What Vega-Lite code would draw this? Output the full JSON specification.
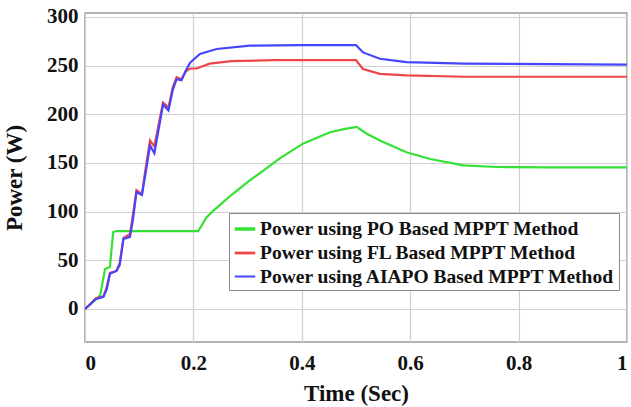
{
  "$schema": "https://vega.github.io/schema/vega-lite/v6.json",
  "width": 542,
  "height": 329,
  "autosize": {"type": "none"},
  "padding": {"left": 85, "top": 13, "right": 4, "bottom": 65},
  "background": "white",
  "config": {
    "view": {"stroke": "#9a9a9a", "strokeWidth": 1.5},
    "font": "Liberation Serif"
  },
  "datasets": {
    "pw": [
      {"s": "Power using PO Based MPPT Method", "t": 0, "P": 0},
      {"s": "Power using PO Based MPPT Method", "t": 0.015, "P": 7.5},
      {"s": "Power using PO Based MPPT Method", "t": 0.028, "P": 14},
      {"s": "Power using PO Based MPPT Method", "t": 0.037, "P": 41},
      {"s": "Power using PO Based MPPT Method", "t": 0.046, "P": 43},
      {"s": "Power using PO Based MPPT Method", "t": 0.052, "P": 79},
      {"s": "Power using PO Based MPPT Method", "t": 0.058, "P": 80},
      {"s": "Power using PO Based MPPT Method", "t": 0.1, "P": 80},
      {"s": "Power using PO Based MPPT Method", "t": 0.209, "P": 80},
      {"s": "Power using PO Based MPPT Method", "t": 0.224, "P": 94},
      {"s": "Power using PO Based MPPT Method", "t": 0.237, "P": 101},
      {"s": "Power using PO Based MPPT Method", "t": 0.27, "P": 117},
      {"s": "Power using PO Based MPPT Method", "t": 0.304, "P": 132},
      {"s": "Power using PO Based MPPT Method", "t": 0.329, "P": 142},
      {"s": "Power using PO Based MPPT Method", "t": 0.36, "P": 155},
      {"s": "Power using PO Based MPPT Method", "t": 0.403, "P": 170},
      {"s": "Power using PO Based MPPT Method", "t": 0.452, "P": 181.5},
      {"s": "Power using PO Based MPPT Method", "t": 0.48, "P": 185},
      {"s": "Power using PO Based MPPT Method", "t": 0.501, "P": 187},
      {"s": "Power using PO Based MPPT Method", "t": 0.52, "P": 180},
      {"s": "Power using PO Based MPPT Method", "t": 0.544, "P": 173},
      {"s": "Power using PO Based MPPT Method", "t": 0.593, "P": 161},
      {"s": "Power using PO Based MPPT Method", "t": 0.637, "P": 154},
      {"s": "Power using PO Based MPPT Method", "t": 0.698, "P": 147.5},
      {"s": "Power using PO Based MPPT Method", "t": 0.76, "P": 145.8},
      {"s": "Power using PO Based MPPT Method", "t": 0.85, "P": 145.5},
      {"s": "Power using PO Based MPPT Method", "t": 1, "P": 145.5},

      {"s": "Power using FL Based MPPT Method", "t": 0, "P": 0},
      {"s": "Power using FL Based MPPT Method", "t": 0.01, "P": 5},
      {"s": "Power using FL Based MPPT Method", "t": 0.02, "P": 11},
      {"s": "Power using FL Based MPPT Method", "t": 0.034, "P": 13},
      {"s": "Power using FL Based MPPT Method", "t": 0.04, "P": 22},
      {"s": "Power using FL Based MPPT Method", "t": 0.046, "P": 37},
      {"s": "Power using FL Based MPPT Method", "t": 0.058, "P": 39},
      {"s": "Power using FL Based MPPT Method", "t": 0.064, "P": 47},
      {"s": "Power using FL Based MPPT Method", "t": 0.071, "P": 73},
      {"s": "Power using FL Based MPPT Method", "t": 0.083, "P": 77},
      {"s": "Power using FL Based MPPT Method", "t": 0.088, "P": 95},
      {"s": "Power using FL Based MPPT Method", "t": 0.095, "P": 122},
      {"s": "Power using FL Based MPPT Method", "t": 0.105, "P": 118},
      {"s": "Power using FL Based MPPT Method", "t": 0.112, "P": 145},
      {"s": "Power using FL Based MPPT Method", "t": 0.12, "P": 173},
      {"s": "Power using FL Based MPPT Method", "t": 0.128, "P": 167},
      {"s": "Power using FL Based MPPT Method", "t": 0.136, "P": 190},
      {"s": "Power using FL Based MPPT Method", "t": 0.144, "P": 212},
      {"s": "Power using FL Based MPPT Method", "t": 0.154, "P": 207},
      {"s": "Power using FL Based MPPT Method", "t": 0.162, "P": 228},
      {"s": "Power using FL Based MPPT Method", "t": 0.169, "P": 238},
      {"s": "Power using FL Based MPPT Method", "t": 0.178, "P": 236},
      {"s": "Power using FL Based MPPT Method", "t": 0.186, "P": 244},
      {"s": "Power using FL Based MPPT Method", "t": 0.194, "P": 247},
      {"s": "Power using FL Based MPPT Method", "t": 0.206, "P": 247},
      {"s": "Power using FL Based MPPT Method", "t": 0.23, "P": 252},
      {"s": "Power using FL Based MPPT Method", "t": 0.27, "P": 254.5},
      {"s": "Power using FL Based MPPT Method", "t": 0.35, "P": 255.5},
      {"s": "Power using FL Based MPPT Method", "t": 0.5, "P": 255.5},
      {"s": "Power using FL Based MPPT Method", "t": 0.505, "P": 252},
      {"s": "Power using FL Based MPPT Method", "t": 0.513, "P": 246.5},
      {"s": "Power using FL Based MPPT Method", "t": 0.544, "P": 241.5},
      {"s": "Power using FL Based MPPT Method", "t": 0.593, "P": 240},
      {"s": "Power using FL Based MPPT Method", "t": 0.7, "P": 238.5},
      {"s": "Power using FL Based MPPT Method", "t": 1, "P": 238.5},

      {"s": "Power using AIAPO Based MPPT Method", "t": 0, "P": 0},
      {"s": "Power using AIAPO Based MPPT Method", "t": 0.01, "P": 5},
      {"s": "Power using AIAPO Based MPPT Method", "t": 0.02, "P": 10},
      {"s": "Power using AIAPO Based MPPT Method", "t": 0.034, "P": 12.5},
      {"s": "Power using AIAPO Based MPPT Method", "t": 0.04, "P": 20},
      {"s": "Power using AIAPO Based MPPT Method", "t": 0.046, "P": 36},
      {"s": "Power using AIAPO Based MPPT Method", "t": 0.058, "P": 39},
      {"s": "Power using AIAPO Based MPPT Method", "t": 0.064, "P": 45},
      {"s": "Power using AIAPO Based MPPT Method", "t": 0.071, "P": 72},
      {"s": "Power using AIAPO Based MPPT Method", "t": 0.083, "P": 74},
      {"s": "Power using AIAPO Based MPPT Method", "t": 0.088, "P": 90},
      {"s": "Power using AIAPO Based MPPT Method", "t": 0.095, "P": 120},
      {"s": "Power using AIAPO Based MPPT Method", "t": 0.105, "P": 117},
      {"s": "Power using AIAPO Based MPPT Method", "t": 0.112, "P": 140},
      {"s": "Power using AIAPO Based MPPT Method", "t": 0.12, "P": 168},
      {"s": "Power using AIAPO Based MPPT Method", "t": 0.128, "P": 160},
      {"s": "Power using AIAPO Based MPPT Method", "t": 0.136, "P": 185},
      {"s": "Power using AIAPO Based MPPT Method", "t": 0.144, "P": 210},
      {"s": "Power using AIAPO Based MPPT Method", "t": 0.154, "P": 204},
      {"s": "Power using AIAPO Based MPPT Method", "t": 0.162, "P": 225},
      {"s": "Power using AIAPO Based MPPT Method", "t": 0.169, "P": 236},
      {"s": "Power using AIAPO Based MPPT Method", "t": 0.178, "P": 235},
      {"s": "Power using AIAPO Based MPPT Method", "t": 0.186, "P": 245},
      {"s": "Power using AIAPO Based MPPT Method", "t": 0.194, "P": 253},
      {"s": "Power using AIAPO Based MPPT Method", "t": 0.2, "P": 256},
      {"s": "Power using AIAPO Based MPPT Method", "t": 0.212, "P": 262},
      {"s": "Power using AIAPO Based MPPT Method", "t": 0.243, "P": 267},
      {"s": "Power using AIAPO Based MPPT Method", "t": 0.304, "P": 270.5},
      {"s": "Power using AIAPO Based MPPT Method", "t": 0.4, "P": 271},
      {"s": "Power using AIAPO Based MPPT Method", "t": 0.5, "P": 271},
      {"s": "Power using AIAPO Based MPPT Method", "t": 0.505, "P": 268},
      {"s": "Power using AIAPO Based MPPT Method", "t": 0.513, "P": 263.5},
      {"s": "Power using AIAPO Based MPPT Method", "t": 0.544, "P": 257},
      {"s": "Power using AIAPO Based MPPT Method", "t": 0.593, "P": 253.5},
      {"s": "Power using AIAPO Based MPPT Method", "t": 0.7, "P": 252},
      {"s": "Power using AIAPO Based MPPT Method", "t": 1, "P": 251}
    ]
  },
  "data": {"name": "pw"},
  "mark": {"type": "line", "strokeWidth": 2.2, "clip": true},
  "encoding": {
    "x": {
      "field": "t", "type": "quantitative",
      "scale": {"domain": [0, 1], "nice": false},
      "axis": {
        "values": [0, 0.2, 0.4, 0.6, 0.8, 1],
        "labelExpr": "datum.value == 0 ? '0' : datum.value == 1 ? '1' : format(datum.value, '.1f')",
        "title": "Time (Sec)",
        "titleFont": "Liberation Serif", "titleFontSize": 23, "titleFontWeight": "bold", "titleColor": "#111",
        "titlePadding": 9,
        "labelFont": "Liberation Serif", "labelFontSize": 21, "labelFontWeight": "bold", "labelColor": "#111",
        "labelPadding": 10,
        "tickSize": 0, "domain": false,
        "gridColor": "#d0d0d0", "gridWidth": 1.2
      }
    },
    "y": {
      "field": "P", "type": "quantitative",
      "scale": {"domain": [-34, 304], "nice": false, "zero": false},
      "axis": {
        "values": [0, 50, 100, 150, 200, 250, 300],
        "title": "Power (W)",
        "titleFont": "Liberation Serif", "titleFontSize": 23, "titleFontWeight": "bold", "titleColor": "#111",
        "titlePadding": 20,
        "labelFont": "Liberation Serif", "labelFontSize": 21, "labelFontWeight": "bold", "labelColor": "#111",
        "labelPadding": 7,
        "tickSize": 0, "domain": false,
        "gridColor": "#d0d0d0", "gridWidth": 1.2
      }
    },
    "color": {
      "field": "s", "type": "nominal",
      "scale": {
        "domain": ["Power using PO Based MPPT Method", "Power using FL Based MPPT Method", "Power using AIAPO Based MPPT Method"],
        "range": ["#35e035", "#f04545", "#4545ff"]
      },
      "legend": {
        "title": null,
        "orient": "none",
        "legendX": 144,
        "legendY": 200,
        "fillColor": "white",
        "strokeColor": "#8a8a8a",
        "padding": 4,
        "symbolType": "stroke",
        "symbolSize": 420,
        "symbolStrokeWidth": 2.5,
        "labelFont": "Liberation Serif",
        "labelFontSize": 19.5,
        "labelFontWeight": "bold",
        "labelColor": "#111",
        "labelLimit": 500,
        "rowPadding": 2,
        "labelOffset": 3
      }
    },
    "strokeWidth": {
      "field": "s", "type": "nominal",
      "scale": {
        "domain": ["Power using PO Based MPPT Method", "Power using FL Based MPPT Method", "Power using AIAPO Based MPPT Method"],
        "range": [3.5, 2, 2]
      },
      "legend": null
    }
  }
}
